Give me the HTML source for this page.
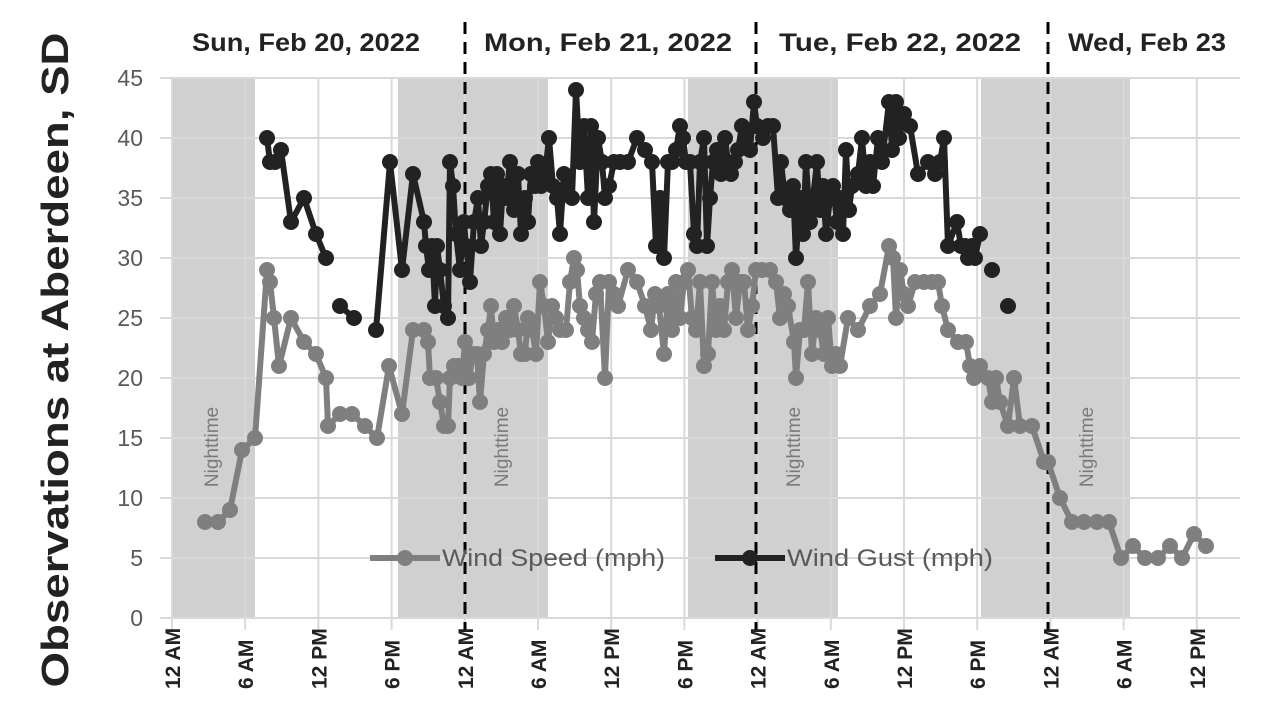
<!DOCTYPE html>
<html><head><meta charset="utf-8"><style>
body{margin:0;background:#fff;}
svg{display:block;font-family:"Liberation Sans",sans-serif;}
</style></head><body>
<svg id="s" width="1280" height="720" xmlns="http://www.w3.org/2000/svg">
<g id="bg"></g>
<g id="grid" stroke="#d9d9d9" stroke-width="2"></g>
<g id="dash" stroke="#000" stroke-width="3" stroke-dasharray="12,8"></g>
<g id="night" fill="#7a7a7a" font-size="19"></g>
<g id="series"></g>
<g id="ylab" fill="#595959" font-size="23" text-anchor="end"></g>
<g id="xlab" fill="#222" font-size="21" font-weight="bold"></g>
<g font-size="25" font-weight="bold" fill="#222">
<text x="306" y="51" text-anchor="middle" textLength="228" lengthAdjust="spacingAndGlyphs">Sun, Feb 20, 2022</text>
<text x="608" y="51" text-anchor="middle" textLength="248" lengthAdjust="spacingAndGlyphs">Mon, Feb 21, 2022</text>
<text x="900" y="51" text-anchor="middle" textLength="242" lengthAdjust="spacingAndGlyphs">Tue, Feb 22, 2022</text>
<text x="1147" y="51" text-anchor="middle" textLength="158" lengthAdjust="spacingAndGlyphs">Wed, Feb 23</text>
</g>
<text transform="translate(68,360) rotate(-90)" text-anchor="middle" font-size="38" font-weight="bold" fill="#222" textLength="655" lengthAdjust="spacingAndGlyphs">Observations at Aberdeen, SD</text>
<g font-size="24" fill="#595959">
<line x1="370" y1="558" x2="440" y2="558" stroke="#7f7f7f" stroke-width="6"/><circle cx="405" cy="558" r="8" fill="#7f7f7f"/>
<text x="442" y="566" textLength="223" lengthAdjust="spacingAndGlyphs">Wind Speed (mph)</text>
<line x1="715" y1="558" x2="785" y2="558" stroke="#222" stroke-width="6"/><circle cx="750" cy="558" r="8" fill="#222"/>
<text x="787" y="566" textLength="206" lengthAdjust="spacingAndGlyphs">Wind Gust (mph)</text>
</g>
</svg>
<script>
const NS="http://www.w3.org/2000/svg";
function el(p,t,a,txt){const e=document.createElementNS(NS,t);for(const k in a)e.setAttribute(k,a[k]);if(txt)e.textContent=txt;document.getElementById(p).appendChild(e);return e;}
const Y=v=>618-12*v;
[[172,255],[398,548],[688,838],[981,1130]].forEach(r=>el('bg','rect',{x:r[0],y:78,width:r[1]-r[0],height:540,fill:'#d0d0d0'}));
for(let v=0;v<=45;v+=5){el('grid','line',{x1:160,x2:1240,y1:Y(v),y2:Y(v)});el('ylab','text',{x:143,y:Y(v)+8},String(v));}
const lab=["12 AM","6 AM","12 PM","6 PM"];
for(let i=0;i<15;i++){const x=172+i*73.2;el('grid','line',{x1:x,x2:x,y1:78,y2:630});
el('xlab','text',{transform:`translate(${x+8},${689}) rotate(-90)`},lab[i%4]);}
[465,756,1048].forEach(x=>el('dash','line',{x1:x,x2:x,y1:22,y2:630}));
[212,502,794,1087].forEach(x=>el('night','text',{transform:`translate(${x+6},${447}) rotate(-90)`,'text-anchor':'middle'},'Nighttime'));
const gust=[[[267,40],[270,38],[275,38],[281,39],[291,33],[304,35],[316,32],[326,30]],[[340,26],[354,25]],
[[376,24],[390,38],[402,29],[413,37],[424,33],[426,31],[429,29],[432,31],[435,26],[437,31],[440,29],[444,26],[448,25],[450,38],[453,36],[456,32],[460,29],[464,33],[466,31],[470,28],[474,33],[478,35],[481,31],[484,33],[488,36],[491,37],[494,33],[497,37],[500,32],[503,36],[506,35],[510,38],[514,34],[518,37],[521,32],[525,35],[528,33],[531,37],[535,36],[538,38],[541,36],[545,37],[549,40],[553,36],[557,35],[560,32],[564,37],[567,36],[572,35],[576,44],[580,38],[584,41],[588,35],[591,41],[594,33],[598,40],[602,38],[605,35],[609,36],[614,38],[620,38],[628,38],[637,40],[645,39],[652,38],[656,31],[660,35],[664,30],[668,38],[672,38],[676,39],[680,41],[683,40],[686,38],[690,38],[694,32],[697,31],[700,38],[704,40],[707,31],[710,35],[713,38],[717,39],[721,37],[725,40],[728,38],[731,37],[735,38],[738,39],[742,41],[746,40],[750,39],[754,43],[757,41],[763,40],[768,41],[773,41],[778,35],[781,38],[785,35],[790,34],[793,36],[796,30],[800,35],[803,32],[806,38],[810,33],[813,35],[817,38],[820,34],[823,36],[826,32],[830,35],[833,36],[837,33],[840,35],[843,32],[846,39],[849,34],[852,36],[858,37],[862,40],[866,36],[870,38],[873,36],[878,40],[882,38],[889,43],[892,39],[896,43],[899,40],[904,42],[910,41],[918,37],[928,38],[935,37],[940,38],[944,40],[948,31],[957,33],[961,31],[965,31],[968,30],[972,31],[975,30],[980,32]],[[992,29]],[[1008,26]]];
const speed=[[[205,8],[218,8],[230,9],[242,14],[255,15],[267,29],[270,28],[274,25],[279,21],[291,25],[304,23],[316,22],[326,20],[328,16],[340,17],[352,17],[365,16],[377,15],[389,21],[402,17],[413,24],[424,24],[428,23],[430,20],[436,20],[440,18],[444,16],[448,16],[450,20],[454,21],[458,21],[462,20],[465,23],[469,20],[473,22],[477,22],[480,18],[484,22],[488,24],[491,26],[494,23],[498,24],[502,23],[506,25],[510,24],[514,26],[518,24],[521,22],[525,22],[528,25],[532,24],[536,22],[540,28],[544,26],[548,23],[552,26],[556,25],[560,24],[566,24],[570,28],[574,30],[577,29],[580,26],[584,25],[588,24],[592,23],[596,27],[600,28],[605,20],[609,28],[614,27],[618,26],[628,29],[637,28],[645,26],[651,24],[655,27],[659,26],[664,22],[668,27],[672,24],[676,28],[680,25],[684,28],[688,29],[692,25],[696,24],[700,28],[704,21],[708,22],[712,28],[716,24],[720,26],[724,24],[728,28],[732,29],[736,25],[740,28],[744,28],[748,24],[752,26],[756,29],[762,29],[770,29],[776,28],[780,25],[784,27],[788,26],[794,23],[796,20],[800,24],[804,24],[808,28],[812,22],[816,25],[820,24],[824,22],[828,25],[832,21],[836,22],[840,21],[848,25],[858,24],[870,26],[880,27],[889,31],[893,30],[896,25],[900,29],[904,27],[908,26],[915,28],[924,28],[932,28],[938,28],[942,26],[948,24],[958,23],[966,23],[970,21],[974,20],[980,21],[988,20],[992,18],[996,20],[1000,18],[1008,16],[1014,20],[1020,16],[1032,16],[1044,13],[1048,13],[1060,10],[1072,8],[1084,8],[1097,8],[1109,8],[1121,5],[1133,6],[1145,5],[1158,5],[1170,6],[1182,5],[1194,7],[1206,6]]];
function draw(segs,col){segs.forEach(s=>{if(s.length>1)el('series','polyline',{points:s.map(p=>p[0]+','+Y(p[1])).join(' '),fill:'none',stroke:col,'stroke-width':6,'stroke-linejoin':'round'});
s.forEach(p=>el('series','circle',{cx:p[0],cy:Y(p[1]),r:8,fill:col}));});}
draw(speed,'#7f7f7f');draw(gust,'#222');
</script>
</body></html>
